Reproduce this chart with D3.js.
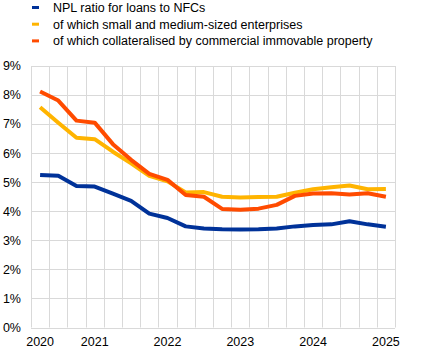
<!DOCTYPE html>
<html><head><meta charset="utf-8">
<script src="https://cdn.jsdelivr.net/npm/d3@7"></script>
<style>body{margin:0;background:#fff}svg{display:block}text{font-family:"Liberation Sans",Arial,sans-serif;fill:#000}</style>
</head><body><div id="c"></div>
<script>
const periods = ["2020Q1","2020Q2","2020Q3","2020Q4","2021Q1","2021Q2","2021Q3","2021Q4","2022Q1","2022Q2","2022Q3","2022Q4","2023Q1","2023Q2","2023Q3","2023Q4","2024Q1","2024Q2","2024Q3","2024Q4"];
const tickLabels = [[0,"2020"],[3,"2021"],[7,"2022"],[11,"2023"],[15,"2024"],[19,"2025"]];
const seriesNames = ["NPL ratio for loans to NFCs","of which small and medium-sized enterprises","of which collateralised by commercial immovable property"];
const nplNFC = [5.25,5.22,4.87,4.85,4.61,4.36,3.92,3.77,3.48,3.41,3.38,3.37,3.38,3.41,3.48,3.53,3.55,3.66,3.55,3.47];
const nplSME = [7.58,7.05,6.53,6.48,6.05,5.65,5.22,5.03,4.65,4.66,4.50,4.47,4.49,4.50,4.64,4.76,4.83,4.89,4.76,4.77];
const nplCRE = [8.12,7.81,7.12,7.05,6.31,5.77,5.29,5.08,4.56,4.50,4.08,4.05,4.09,4.22,4.53,4.61,4.62,4.58,4.62,4.50];
const yTicks = [0,1,2,3,4,5,6,7,8,9];
const colors = ["#003299","#ffb400","#ff4b00"];

const W=425,H=357;
const svg=d3.select("#c").append("svg").attr("width",W).attr("height",H);
const x=d3.scaleBand().domain(periods).range([31,395]);
const y=d3.scaleLinear().domain([0,9]).range([327.5,66]);

const g=svg.append("g");
// horizontal grid
g.selectAll("line.h").data(yTicks).join("line")
 .attr("x1",31).attr("x2",395).attr("y1",d=>Math.round(y(d))+0.5).attr("y2",d=>Math.round(y(d))+0.5)
 .attr("stroke","#d9d9d9").attr("stroke-width",1);
// vertical grid at band boundaries
const bounds=periods.map(p=>x(p)).concat([x.range()[1]]);
g.selectAll("line.v").data(bounds).join("line")
 .attr("x1",d=>Math.round(d)+0.5).attr("x2",d=>Math.round(d)+0.5)
 .attr("y1",y(9)).attr("y2",y(0))
 .attr("stroke","#d9d9d9").attr("stroke-width",1);
// y labels
g.selectAll("text.y").data(yTicks).join("text")
 .attr("x",21).attr("y",d=>y(d)).attr("dy","0.35em").attr("text-anchor","end")
 .style("font-size","12.5px").text(d=>d+"%");
// x labels
g.selectAll("text.x").data(tickLabels).join("text")
 .attr("x",d=>x(periods[d[0]])+x.bandwidth()/2).attr("y",346).attr("text-anchor","middle")
 .style("font-size","12.5px").text(d=>d[1]);

const line=d3.line().x((d,i)=>x(periods[i])+x.bandwidth()/2).y(d=>y(d));
[nplNFC,nplSME,nplCRE].forEach((s,k)=>{
  svg.append("path").datum(s).attr("d",line).attr("fill","none")
   .attr("stroke",colors[k]).attr("stroke-width",4).attr("stroke-linejoin","round");
});
// legend
const lg=svg.append("g");
seriesNames.forEach((n,i)=>{
  const cy=7.5+i*16.7;
  lg.append("rect").attr("x",32).attr("y",cy-1.5).attr("width",7).attr("height",3).attr("fill",colors[i]);
  lg.append("text").attr("x",53).attr("y",cy).attr("dy","0.35em").style("font-size","12.5px").text(n);
});
</script></body></html>
